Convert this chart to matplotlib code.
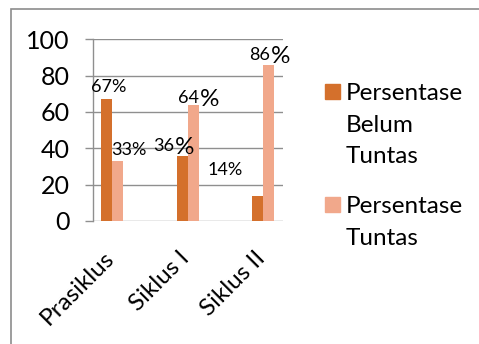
import matplotlib
matplotlib.use("Agg")
import matplotlib.pyplot as plt
from matplotlib.patches import Rectangle
import matplotlib.transforms as mtransforms

categories = ["Prasiklus", "Siklus I", "Siklus II"]
series_names = ["Persentase\nBelum\nTuntas", "Persentase\nTuntas"]
belum_tuntas = [67, 36, 14]
tuntas = [33, 64, 86]
label_belum = ["67%", "36%", "14%"]
label_tuntas = ["33%", "64%", "86%"]
yticks = [0, 20, 40, 60, 80, 100]

plt.rcParams['font.family'] = ['Lato', 'DejaVu Sans']

W, H = 479, 344
DPI = 100
fig = plt.figure(figsize=(W / DPI, H / DPI), dpi=DPI)

def fx(x):
    return x / W

def fy(y):
    return 1 - y / H

# outer frame
fig.patches.append(Rectangle((fx(11), fy(H + 5)), fx(W + 5) - fx(11), fy(9) - fy(H + 5),
                             transform=fig.transFigure, fill=False,
                             edgecolor="#8c8c8c", lw=1.2))

left, right, top, bottom = 93, 283, 39.3, 221
ax = fig.add_axes([fx(left), fy(bottom), fx(right) - fx(left), fy(top) - fy(bottom)])

c_dark = "#D4702C"
c_light = "#F1A88B"
grid_c = "#8f8f8f"

spacing = 75.5  # px per category
bw = 11 / spacing
x0 = -(112 - left) / spacing
x1 = 2 + (right - 263) / spacing
ax.set_xlim(x0, x1)
ax.set_ylim(0, 100)

xs = list(range(len(categories)))
ax.bar([x - bw / 2 for x in xs], belum_tuntas, width=bw, color=c_dark, zorder=3)
ax.bar([x + bw / 2 for x in xs], tuntas, width=bw, color=c_light, zorder=3)

ax.set_yticks(yticks)
ax.yaxis.grid(True, color=grid_c, lw=1.0, zorder=0)
ax.tick_params(axis='y', length=8 * 0.72, width=1.0, color=grid_c, pad=11,
               labelsize=18, labelcolor="#000000")
for s in ["top", "right", "bottom"]:
    ax.spines[s].set_visible(False)
ax.spines["left"].set_color(grid_c)
ax.spines["left"].set_linewidth(1.0)

ax.set_xticks(xs)
ax.set_xticklabels(categories, rotation=45, ha='right', va='top',
                   rotation_mode='anchor', fontsize=17.5)
ax.tick_params(axis='x', length=0, pad=19)
offset = mtransforms.ScaledTranslation(-9 / DPI, 0, fig.dpi_scale_trans)
for lab in ax.get_xticklabels():
    lab.set_transform(lab.get_transform() + offset)

# data labels: (offset px x, offset px up), big percent flag
belum_off = [(2.5, 12, False), (-11.5, 9.5, True), (-32.5, 25.5, False)]
tuntas_off = [(11, 11, False), (2.5, 6.5, True), (-2, 9.5, True)]

def put_label(x, v, text, off):
    dx, dy, big = off
    if not big:
        ax.annotate(text, xy=(x, v), xytext=(dx * 0.72, dy * 0.72),
                    textcoords='offset points', ha='center', va='center',
                    fontsize=13, color="#000000", zorder=5)
    else:
        num = text[:-1]
        t = ax.annotate(num, xy=(x, v), xytext=((dx - 7) * 0.72, (dy - 5) * 0.72),
                        textcoords='offset points', ha='center', va='baseline',
                        fontsize=13, color="#000000", zorder=5)
        ax.annotate("%", xy=(1, 0), xycoords=t, xytext=(0.5, 0),
                    textcoords='offset points', ha='left', va='baseline',
                    fontsize=17.5, color="#000000", zorder=5)

for i, x in enumerate(xs):
    put_label(x - bw / 2, belum_tuntas[i], label_belum[i], belum_off[i])
    put_label(x + bw / 2, tuntas[i], label_tuntas[i], tuntas_off[i])

# legend (manual)
leg_items = [(series_names[0], c_dark, 84), (series_names[1], c_light, 197)]
for name, col, ytop in leg_items:
    fig.patches.append(Rectangle((fx(325), fy(ytop + 15)), fx(15), 15 / H,
                                 transform=fig.transFigure, color=col))
    fig.text(fx(346), fy(ytop - 1), name, ha='left', va='top', fontsize=17.5,
             linespacing=1.62, color="#000000")

fig.savefig("out.png", dpi=DPI)
